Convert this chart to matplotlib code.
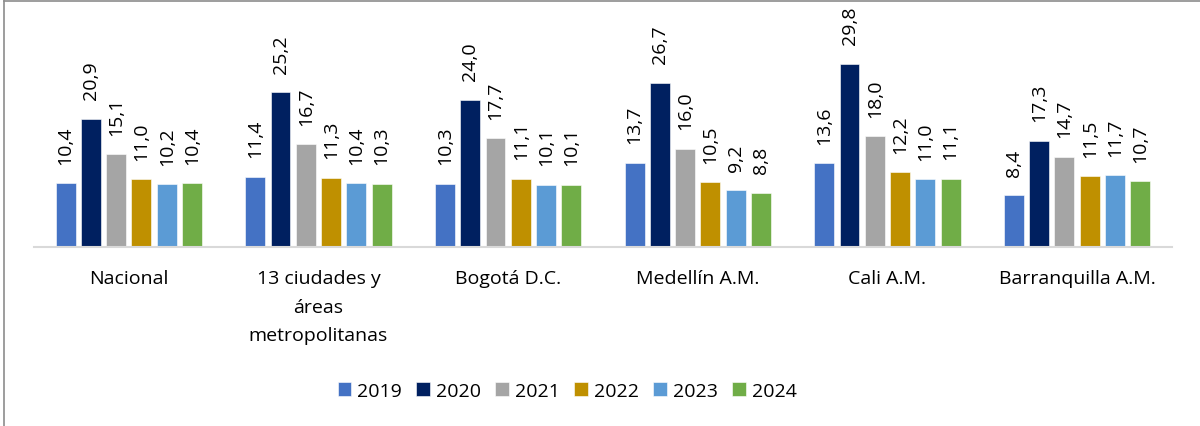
import numpy as np
import matplotlib.pyplot as plt
from matplotlib.lines import Line2D

plt.rcParams['font.family'] = ['Open Sans', 'DejaVu Sans']

categorias = ["Nacional", "13 ciudades y\náreas\nmetropolitanas", "Bogotá D.C.",
              "Medellín A.M.", "Cali A.M.", "Barranquilla A.M."]
anios = ["2019", "2020", "2021", "2022", "2023", "2024"]
v2019 = [10.4, 11.4, 10.3, 13.7, 13.6, 8.4]
v2020 = [20.9, 25.2, 24.0, 26.7, 29.8, 17.3]
v2021 = [15.1, 16.7, 17.7, 16.0, 18.0, 14.7]
v2022 = [11.0, 11.3, 11.1, 10.5, 12.2, 11.5]
v2023 = [10.2, 10.4, 10.1, 9.2, 11.0, 11.7]
v2024 = [10.4, 10.3, 10.1, 8.8, 11.1, 10.7]
series = [v2019, v2020, v2021, v2022, v2023, v2024]
colores = ["#4472C4", "#002060", "#A5A5A5", "#BF9000", "#5B9BD5", "#70AD47"]

fig = plt.figure(figsize=(12, 4.27), dpi=100)
ax = fig.add_axes([0.0283, 0.4192, 0.9483, 0.557])

x = np.arange(len(categorias))
paso = 0.1333
ancho = 0.105
for i, (vals, col, lab) in enumerate(zip(series, colores, anios)):
    pos = x + (i - 2.5) * paso
    bars = ax.bar(pos, vals, width=ancho, color=col, label=lab,
                  edgecolor="white", linewidth=0.4)
    for p, v in zip(pos, vals):
        ax.annotate(f"{v:.1f}".replace(".", ","), (p, v), xytext=(0, 14),
                    textcoords="offset points", rotation=90,
                    ha="center", va="bottom", fontsize=14)

ax.set_xlim(-0.5, 5.5)
ax.set_ylim(0, 38.7)
ax.set_yticks([])
ax.set_xticks(x)
ax.set_xticklabels(categorias, fontsize=14, linespacing=1.75)
ax.tick_params(axis="x", length=0, pad=16)
for s in ["top", "right", "left"]:
    ax.spines[s].set_visible(False)
ax.spines["bottom"].set_color("#D9D9D9")
ax.spines["bottom"].set_linewidth(1.5)

fig.legend(loc="center", bbox_to_anchor=(0.4725, 0.082), ncol=6, frameon=False,
           fontsize=14, handlelength=0.7, handleheight=0.7, handletextpad=0.3,
           columnspacing=0.75)

fig.add_artist(Line2D([0.0035, 0.0035], [0, 0.995], transform=fig.transFigure,
                      color="#8C8C8C", linewidth=1.2))
fig.add_artist(Line2D([0.0035, 1], [0.995, 0.995], transform=fig.transFigure,
                      color="#8C8C8C", linewidth=1.2))

fig.savefig("out.png", dpi=100)
